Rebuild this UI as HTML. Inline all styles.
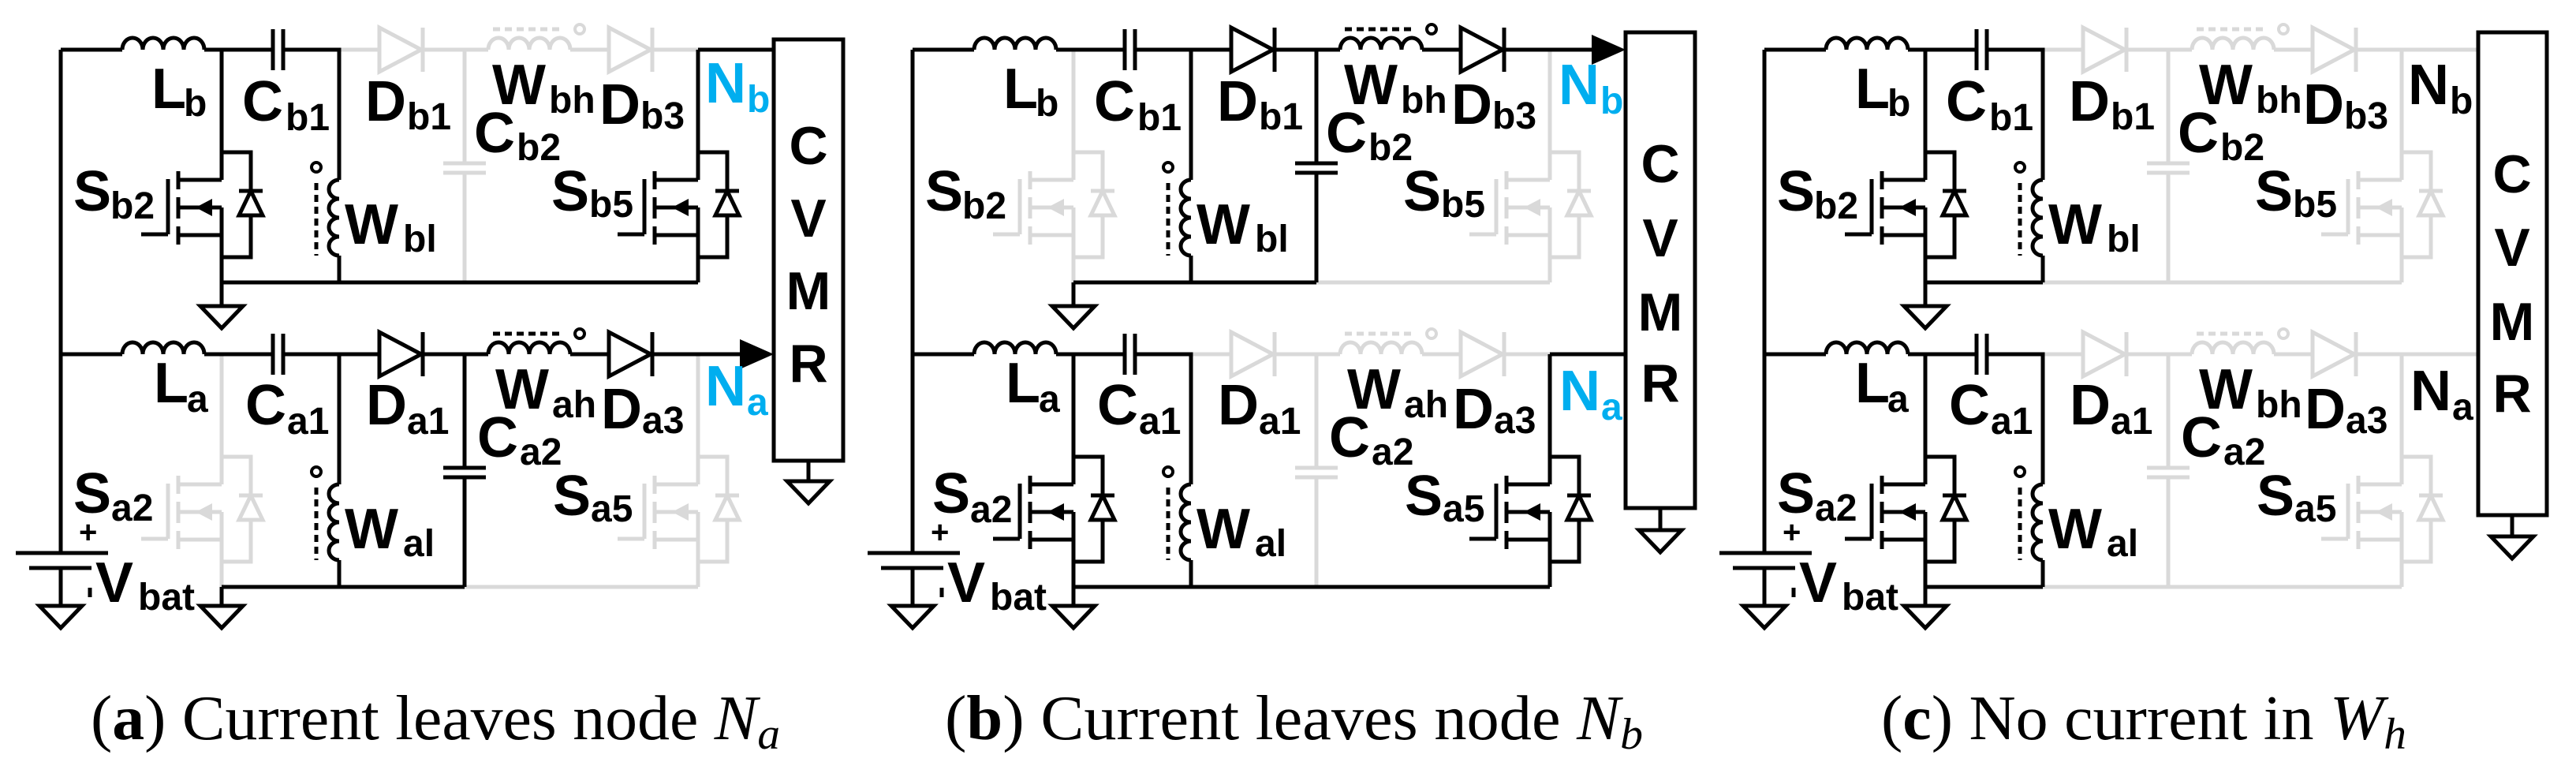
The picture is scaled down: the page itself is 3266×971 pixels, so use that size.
<!DOCTYPE html>
<html><head><meta charset="utf-8"><style>
html,body{margin:0;padding:0;background:#fff;}
svg{display:block;}
.w{fill:none;stroke:currentColor;stroke-width:5;}
.k{color:#000;} .g{color:#d9d9d9;}
.t{font-family:"Liberation Sans",Arial,sans-serif;font-weight:bold;font-size:72px;fill:#000;}
.t .s{font-size:48px;}
.blue{fill:#00aeef;}
.cv{font-family:"Liberation Sans",Arial,sans-serif;font-weight:bold;font-size:68px;text-anchor:middle;}
.cap{font-family:"Liberation Serif","Times New Roman",serif;font-size:80px;fill:#000;}
</style></head><body>
<svg width="3266" height="971" viewBox="0 0 3266 971" xmlns="http://www.w3.org/2000/svg">
<defs>
<g id="ind"><path class="w" d="M0,0 a13,15 0 0 1 26,0 a13,15 0 0 1 26,0 a13,15 0 0 1 26,0 a13,15 0 0 1 26,0"/></g>
<g id="indh"><path class="w" d="M0,0 a13,15 0 0 1 26,0 a13,15 0 0 1 26,0 a13,15 0 0 1 26,0 a13,15 0 0 1 26,0"/><path class="w" d="M6,-26 H96" stroke-dasharray="9,6"/><circle cx="116" cy="-26" r="6" fill="#fff" stroke="currentColor" stroke-width="4"/></g>
<g id="indV"><path class="w" d="M0,0 a13,12 0 0 0 0,24 a13,12 0 0 0 0,24 a13,12 0 0 0 0,24 a13,12 0 0 0 0,24"/><path class="w" d="M-29,4 V96" stroke-dasharray="9,6"/><circle cx="-29" cy="-16" r="6" fill="#fff" stroke="currentColor" stroke-width="4"/></g>
<g id="dio"><polygon points="0,-28 0,28 53,0" fill="#fff" stroke="currentColor" stroke-width="5"/><path class="w" d="M55,-28 V28"/></g>
<g id="sw"><path class="w" d="M0,0 V35 M0,70 V133 M0,0 H37 V133 H0 M-55,24 V47 M-55,57 V84 M-55,94 V117 M-55,35 H0 M-55,70 H0 M-55,105 H0 M-68,34 V104 M-102,104 H-68 M22,49 H52"/><polygon points="-33,70 -12,59 -12,81" fill="currentColor"/><polygon points="37,49 22,80 52,80" fill="#fff" stroke="currentColor" stroke-width="5"/></g>
<g id="gnd"><polygon points="-27,0 27,0 0,28" fill="#fff" stroke="#000" stroke-width="5"/></g>
<g id="arr"><path class="w" d="M828,63 H945"/><polygon points="938,44 981,63 938,82" fill="currentColor"/></g>
<!-- common black per row -->
<g id="rowk" class="k"><path class="w" d="M77,63 H155 M259,63 H346 M359,63 H430 V228 M430,324 V358 M346,37 V89 M359,37 V89"/><use href="#ind" x="155" y="63"/><use href="#indV" x="430" y="228"/></g>
<g id="S2"><path class="w" d="M281,63 V193 M281,326 V358"/><use href="#sw" x="281" y="193"/></g>
<g id="S5"><path class="w" d="M885,63 V193 M885,326 V358"/><use href="#sw" x="885" y="193"/></g>
<g id="D1"><path class="w" d="M430,63 H589"/><use href="#dio" x="481" y="63"/></g>
<g id="C2"><path class="w" d="M589,63 V207 M589,219 V358 M562,207 H616 M562,219 H616"/></g>
<g id="H"><path class="w" d="M589,63 H619 M723,63 H885"/><use href="#indh" x="619" y="63"/><use href="#dio" x="772" y="63"/></g>
<g id="common">
<path class="w k" d="M77,63 V701 M20,701 H137 M37,720 H116 M77,720 V768 M281,358 V388 M281,744 V768 M114,745 V757" />
<use href="#gnd" x="77" y="768"/><use href="#gnd" x="281" y="388"/><use href="#gnd" x="281" y="768"/>
</g>
</defs>

<!-- ================= PANEL A ================= -->
<g transform="translate(0,0)">
 <g>
  <use href="#D1" class="g"/><use href="#C2" class="g"/><use href="#H" class="g"/>
  <use href="#rowk"/>
  <use href="#S2" class="k"/><use href="#S5" class="k"/>
  <path class="w k" d="M885,63 H981 M281,358 H885"/>
 </g>
 <g transform="translate(0,386)">
  <use href="#S2" class="g"/><use href="#S5" class="g"/>
  <path class="w g" d="M589,358 H885"/>
  <use href="#rowk"/>
  <use href="#D1" class="k"/><use href="#C2" class="k"/><use href="#H" class="k"/><use href="#arr" class="k"/>
  <path class="w k" d="M281,358 H589"/>
 </g>
 <use href="#common"/>
 <rect x="981" y="50" width="88" height="534" fill="#fff" stroke="#000" stroke-width="5"/>
 <path class="w k" d="M1025,584 V610"/><use href="#gnd" x="1025" y="610"/>
 <text class="cv" x="1025" y="208">C</text><text class="cv" x="1025" y="300">V</text><text class="cv" x="1025" y="392">M</text><text class="cv" x="1025" y="484">R</text>
 <g class="t">
  <text x="192" y="137">L</text><text class="s" x="233" y="147">b</text>
  <text x="307" y="153">C</text><text class="s" x="362" y="165">b1</text>
  <text x="463" y="153">D</text><text class="s" x="516" y="164">b1</text>
  <text x="624" y="132">W</text><text class="s" x="696" y="143">bh</text>
  <text x="760" y="157">D</text><text class="s" x="812" y="163">b3</text>
  <text class="blue" x="894" y="130">N</text><text class="s blue" x="947" y="142">b</text>
  <text x="601" y="193">C</text><text class="s" x="655" y="203">b2</text>
  <text x="699" y="267">S</text><text class="s" x="747" y="275">b5</text>
  <text x="93" y="267">S</text><text class="s" x="140" y="277">b2</text>
  <text x="437" y="309">W</text><text class="s" x="511" y="319">bl</text>
  <text x="195" y="510">L</text><text class="s" x="237" y="522">a</text>
  <text x="311" y="538">C</text><text class="s" x="364" y="550">a1</text>
  <text x="464" y="538">D</text><text class="s" x="516" y="550">a1</text>
  <text x="628" y="518">W</text><text class="s" x="700" y="529">ah</text>
  <text x="762" y="543">D</text><text class="s" x="814" y="549">a3</text>
  <text class="blue" x="894" y="514">N</text><text class="s blue" x="947" y="526">a</text>
  <text x="605" y="579">C</text><text class="s" x="659" y="589">a2</text>
  <text x="701" y="653">S</text><text class="s" x="749" y="661">a5</text>
  <text x="93" y="650">S</text><text class="s" x="141" y="660">a2</text>
  <text x="437" y="695">W</text><text class="s" x="511" y="705">al</text>
  <text x="121" y="763">V</text><text class="s" x="175" y="773">bat</text>
  <text x="100" y="688" style="font-size:40px">+</text>
 </g>
</g>

<!-- ================= PANEL B ================= -->
<g transform="translate(1080,0)">
 <g>
  <use href="#S2" class="g"/><use href="#S5" class="g"/>
  <path class="w g" d="M589,358 H885"/>
  <use href="#rowk"/>
  <use href="#D1" class="k"/><use href="#C2" class="k"/><use href="#H" class="k"/><use href="#arr" class="k"/>
  <path class="w k" d="M281,358 H589"/>
 </g>
 <g transform="translate(0,386)">
  <use href="#D1" class="g"/><use href="#C2" class="g"/><use href="#H" class="g"/>
  <use href="#rowk"/>
  <use href="#S2" class="k"/><use href="#S5" class="k"/>
  <path class="w k" d="M885,63 H981 M281,358 H885"/>
 </g>
 <use href="#common"/>
 <rect x="981" y="41" width="88" height="603" fill="#fff" stroke="#000" stroke-width="5"/>
 <path class="w k" d="M1025,644 V672"/><use href="#gnd" x="1025" y="672"/>
 <text class="cv" x="1025" y="231">C</text><text class="cv" x="1025" y="325">V</text><text class="cv" x="1025" y="419">M</text><text class="cv" x="1025" y="509">R</text>
 <g class="t">
  <text x="192" y="137">L</text><text class="s" x="233" y="147">b</text>
  <text x="307" y="153">C</text><text class="s" x="362" y="165">b1</text>
  <text x="463" y="153">D</text><text class="s" x="516" y="164">b1</text>
  <text x="624" y="132">W</text><text class="s" x="696" y="143">bh</text>
  <text x="760" y="157">D</text><text class="s" x="812" y="163">b3</text>
  <text class="blue" x="896" y="132">N</text><text class="s blue" x="949" y="144">b</text>
  <text x="601" y="193">C</text><text class="s" x="655" y="203">b2</text>
  <text x="699" y="267">S</text><text class="s" x="747" y="275">b5</text>
  <text x="93" y="267">S</text><text class="s" x="140" y="277">b2</text>
  <text x="437" y="309">W</text><text class="s" x="511" y="319">bl</text>
  <text x="195" y="510">L</text><text class="s" x="237" y="522">a</text>
  <text x="311" y="538">C</text><text class="s" x="364" y="550">a1</text>
  <text x="464" y="538">D</text><text class="s" x="516" y="550">a1</text>
  <text x="628" y="518">W</text><text class="s" x="700" y="529">ah</text>
  <text x="762" y="543">D</text><text class="s" x="814" y="549">a3</text>
  <text class="blue" x="897" y="520">N</text><text class="s blue" x="950" y="532">a</text>
  <text x="605" y="579">C</text><text class="s" x="659" y="589">a2</text>
  <text x="701" y="653">S</text><text class="s" x="749" y="661">a5</text>
  <text x="102" y="650">S</text><text class="s" x="150" y="662">a2</text>
  <text x="437" y="695">W</text><text class="s" x="511" y="705">al</text>
  <text x="121" y="763">V</text><text class="s" x="175" y="773">bat</text>
  <text x="100" y="688" style="font-size:40px">+</text>
 </g>
</g>

<!-- ================= PANEL C ================= -->
<g transform="translate(2160,0)">
 <g>
  <use href="#D1" class="g"/><use href="#C2" class="g"/><use href="#H" class="g"/><use href="#S5" class="g"/>
  <path class="w g" d="M885,63 H981 M430,358 H885"/>
  <use href="#rowk"/>
  <use href="#S2" class="k"/>
  <path class="w k" d="M281,358 H430"/>
 </g>
 <g transform="translate(0,386)">
  <use href="#D1" class="g"/><use href="#C2" class="g"/><use href="#H" class="g"/><use href="#S5" class="g"/>
  <path class="w g" d="M885,63 H981 M430,358 H885"/>
  <use href="#rowk"/>
  <use href="#S2" class="k"/>
  <path class="w k" d="M281,358 H430"/>
 </g>
 <use href="#common"/>
 <rect x="982" y="41" width="87" height="612" fill="#fff" stroke="#000" stroke-width="5"/>
 <path class="w k" d="M1025,653 V680"/><use href="#gnd" x="1025" y="680"/>
 <text class="cv" x="1025" y="244">C</text><text class="cv" x="1025" y="337">V</text><text class="cv" x="1025" y="431">M</text><text class="cv" x="1025" y="522">R</text>
 <g class="t">
  <text x="192" y="137">L</text><text class="s" x="233" y="147">b</text>
  <text x="307" y="153">C</text><text class="s" x="362" y="165">b1</text>
  <text x="463" y="153">D</text><text class="s" x="516" y="164">b1</text>
  <text x="628" y="132">W</text><text class="s" x="700" y="143">bh</text>
  <text x="760" y="157">D</text><text class="s" x="812" y="163">b3</text>
  <text x="893" y="132">N</text><text class="s" x="946" y="144">b</text>
  <text x="601" y="193">C</text><text class="s" x="655" y="203">b2</text>
  <text x="699" y="267">S</text><text class="s" x="747" y="275">b5</text>
  <text x="93" y="267">S</text><text class="s" x="140" y="277">b2</text>
  <text x="437" y="309">W</text><text class="s" x="511" y="319">bl</text>
  <text x="192" y="510">L</text><text class="s" x="233" y="522">a</text>
  <text x="311" y="538">C</text><text class="s" x="364" y="550">a1</text>
  <text x="464" y="538">D</text><text class="s" x="516" y="550">a1</text>
  <text x="628" y="518">W</text><text class="s" x="700" y="529">bh</text>
  <text x="762" y="543">D</text><text class="s" x="814" y="549">a3</text>
  <text x="896" y="520">N</text><text class="s" x="949" y="532">a</text>
  <text x="605" y="579">C</text><text class="s" x="659" y="589">a2</text>
  <text x="701" y="653">S</text><text class="s" x="749" y="661">a5</text>
  <text x="93" y="650">S</text><text class="s" x="141" y="660">a2</text>
  <text x="437" y="695">W</text><text class="s" x="511" y="705">al</text>
  <text x="121" y="763">V</text><text class="s" x="175" y="773">bat</text>
  <text x="100" y="688" style="font-size:40px">+</text>
 </g>
</g>

<!-- captions -->
<text class="cap" x="115" y="937" textLength="874" lengthAdjust="spacingAndGlyphs">(<tspan font-weight="bold">a</tspan>) Current leaves node <tspan font-style="italic">N</tspan><tspan font-style="italic" font-size="56" dy="12">a</tspan></text>
<text class="cap" x="1198" y="937" textLength="885" lengthAdjust="spacingAndGlyphs">(<tspan font-weight="bold">b</tspan>) Current leaves node <tspan font-style="italic">N</tspan><tspan font-style="italic" font-size="56" dy="12">b</tspan></text>
<text class="cap" x="2385" y="937" textLength="666" lengthAdjust="spacingAndGlyphs">(<tspan font-weight="bold">c</tspan>) No current in <tspan font-style="italic">W</tspan><tspan font-style="italic" font-size="56" dy="12">h</tspan></text>
</svg>
</body></html>
